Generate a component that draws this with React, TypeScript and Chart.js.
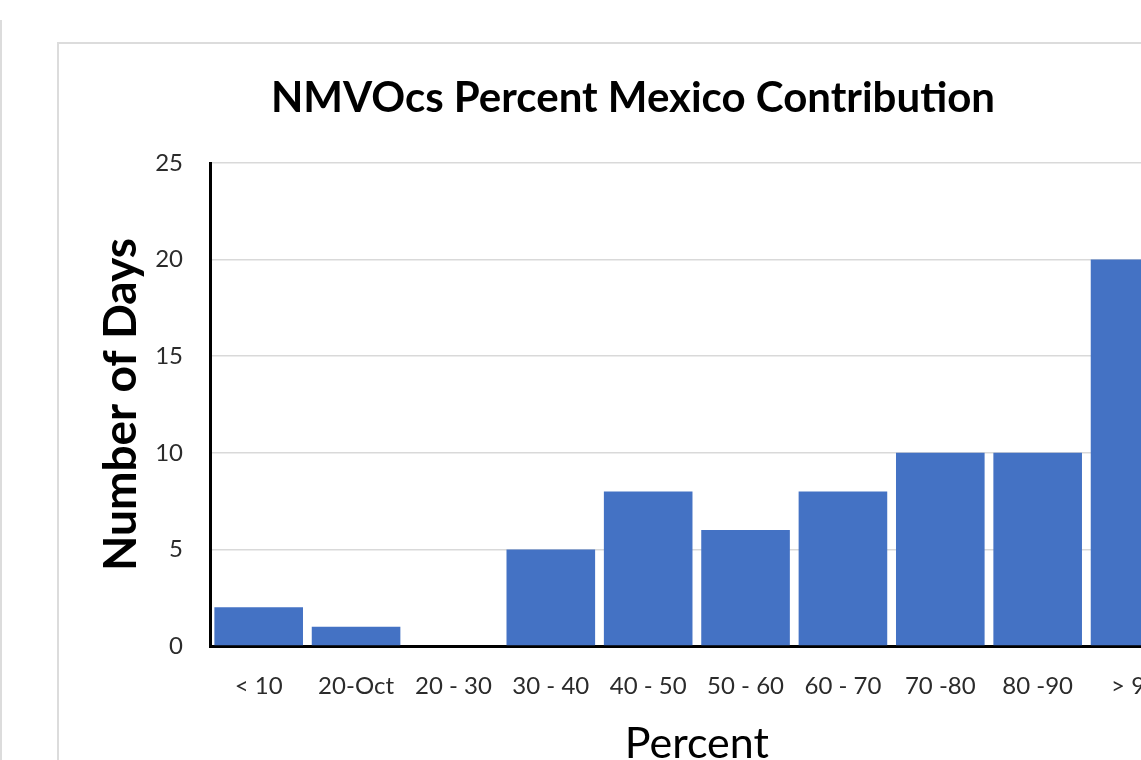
import React, { useEffect, useRef } from "react";
import { Chart, registerables } from "chart.js";

Chart.register(...registerables);

// Percent-contribution bins and the number of days falling in each
const categories = ["< 10", "20-Oct", "20 - 30", "30 - 40", "40 - 50", "50 - 60", "60 - 70", "70 -80", "80 -90", "> 90"];
const dayCounts = [2, 1, 0, 5, 8, 6, 8, 10, 10, 20];
const yTickStep = 5;
const yMax = 25;

const FONT = "Lato";

export default function App() {
  const canvasRef = useRef<HTMLCanvasElement | null>(null);

  useEffect(() => {
    if (!canvasRef.current) return;
    const chart = new Chart(canvasRef.current, {
      type: "bar",
      data: {
        labels: categories,
        datasets: [
          {
            label: "Number of Days",
            data: dayCounts,
            backgroundColor: "#4472C4",
            borderWidth: 0,
            categoryPercentage: 1,
            barPercentage: 0.91,
          },
        ],
      },
      options: {
        responsive: false,
        animation: false,
        devicePixelRatio: 1,
        layout: { padding: { left: 23, right: 0, top: 0, bottom: 0 } },
        plugins: {
          legend: { display: false },
          tooltip: { enabled: false },
          title: {
            display: true,
            text: "NMVOcs Percent Mexico Contribution",
            color: "#000",
            font: { family: FONT, size: 42, weight: "bold" },
            padding: { top: 30, bottom: 39.6 },
          },
        },
        scales: {
          x: {
            grid: { display: false, drawTicks: false },
            border: { display: true, color: "#000", width: 3 },
            ticks: {
              color: "#2b2b2b",
              font: { family: FONT, size: 24 },
              padding: 26,
              autoSkip: false,
              maxRotation: 0,
            },
            title: {
              display: true,
              text: "Percent",
              color: "#000",
              font: { family: FONT, size: 43 },
              padding: { top: 0, bottom: 6 },
            },
            afterFit: (scale: any) => {
              scale.height = 130;
            },
          },
          y: {
            min: 0,
            max: yMax,
            grid: { color: "#d9d9d9", lineWidth: 1.5, drawTicks: false },
            border: { display: true, color: "#000", width: 3 },
            ticks: {
              stepSize: yTickStep,
              color: "#2b2b2b",
              font: { family: FONT, size: 24 },
              padding: 27,
            },
            title: {
              display: true,
              text: "Number of Days",
              color: "#000",
              font: { family: FONT, size: 46, weight: "bold" },
              padding: { top: 13, bottom: 0 },
            },
            afterFit: (scale: any) => {
              scale.width = 129;
            },
          },
        },
      },
    });
    return () => chart.destroy();
  }, []);

  return (
    <div
      style={{
        position: "fixed",
        left: 0,
        top: 0,
        width: 1141,
        height: 760,
        overflow: "hidden",
        background: "#fff",
      }}
    >
      <div style={{ position: "absolute", left: 0, top: 20, width: 2, height: 760, background: "#dcdcdc" }} />
      <div
        style={{
          position: "absolute",
          left: 57,
          top: 42,
          width: 1200,
          height: 800,
          border: "2px solid #dcdcdc",
          boxSizing: "border-box",
        }}
      />
      <canvas
        ref={canvasRef}
        width={1127}
        height={733}
        style={{ position: "absolute", left: 58, top: 43, width: 1127, height: 733 }}
      />
    </div>
  );
}
